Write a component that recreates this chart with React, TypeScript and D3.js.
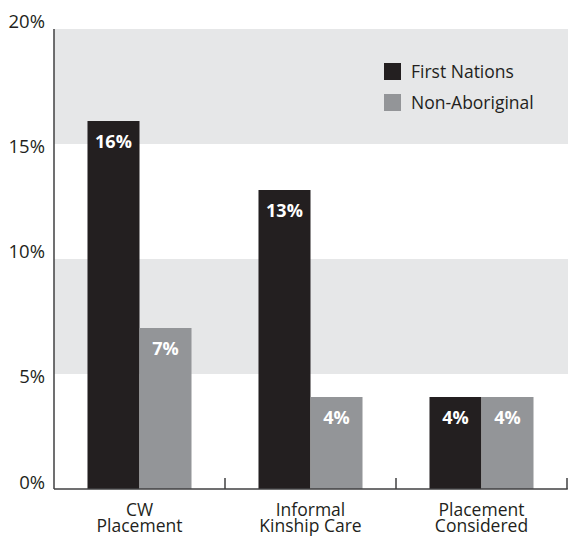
import * as d3 from "d3";

const categories = [["CW", "Placement"], ["Informal", "Kinship Care"], ["Placement", "Considered"]];
const seriesNames = ["First Nations", "Non-Aboriginal"];
const firstNations = [16, 13, 4];
const nonAboriginal = [7, 4, 4];
const yTicks = [0, 5, 10, 15, 20];
const seriesColors = ["#231f20", "#939598"];

export default function App() {
  const width = 568;
  const height = 536;
  const left = 54;
  const right = 567;
  const top = 29;
  const bottom = 489;
  const font = "'Open Sans', 'Noto Sans', sans-serif";
  const textColor = "#231f20";
  const axisColor = "#414042";

  const x0 = d3
    .scaleBand<number>()
    .domain(categories.map((_, i) => i))
    .range([left, right])
    .padding(0);

  const x1 = d3
    .scaleBand<string>()
    .domain(seriesNames)
    .range([0, x0.bandwidth()])
    .paddingInner(0)
    .paddingOuter(0.644);

  const y = d3.scaleLinear().domain([0, 20]).range([bottom, top]);

  const values = [firstNations, nonAboriginal];

  // nudges for the y tick labels, as in the original layout
  const labelNudge = [-6, 3, -7, 3, -7];

  return (
    <svg width={width} height={height} style={{ position: "absolute", left: 0, top: 0 }}>
      {/* alternating bands */}
      {d3.pairs(yTicks).map(([a, b], i) =>
        i % 2 === 1 ? (
          <rect key={i} x={left} y={y(b)} width={width - left} height={y(a) - y(b)} fill="#e6e7e8" />
        ) : null
      )}

      {/* bars */}
      {seriesNames.map((s, si) =>
        values[si].map((v, ci) => (
          <g key={`${s}-${ci}`}>
            <rect
              x={x0(ci)! + x1(s)!}
              y={y(v)}
              width={x1.bandwidth()}
              height={bottom - y(v)}
              fill={seriesColors[si]}
            />
            <text
              x={x0(ci)! + x1(s)! + x1.bandwidth() / 2}
              y={y(v) + 27}
              textAnchor="middle"
              fill="#ffffff"
              fontFamily={font}
              fontWeight="bold"
              fontSize={18}
            >
              {v}%
            </text>
          </g>
        ))
      )}

      {/* y axis */}
      <line x1={left} x2={left} y1={top} y2={bottom} stroke={axisColor} strokeWidth={1.5} />
      {yTicks.map((t, i) => (
        <text
          key={t}
          x={45}
          y={y(t) + labelNudge[i]}
          dy="0.35em"
          textAnchor="end"
          fill={textColor}
          fontFamily={font}
          fontSize={18.5}
        >
          {t}%
        </text>
      ))}

      {/* x axis */}
      <line x1={left} x2={right + 0.75} y1={bottom} y2={bottom} stroke={axisColor} strokeWidth={1.5} />
      {categories.map((_, i) => (
        <line
          key={i}
          x1={x0(i)! + x0.bandwidth()}
          x2={x0(i)! + x0.bandwidth()}
          y1={bottom}
          y2={bottom - 11}
          stroke={axisColor}
          strokeWidth={1.5}
        />
      ))}
      {categories.map((lines, i) => (
        <text
          key={i}
          x={x0(i)! + x0.bandwidth() / 2}
          y={516}
          textAnchor="middle"
          fill={textColor}
          fontFamily={font}
          fontSize={17.5}
        >
          {lines.map((l, j) => (
            <tspan key={j} x={x0(i)! + x0.bandwidth() / 2} dy={j === 0 ? 0 : 15.5}>
              {l}
            </tspan>
          ))}
        </text>
      ))}

      {/* legend */}
      {seriesNames.map((s, i) => (
        <g key={s} transform={`translate(384,${63 + i * 31})`}>
          <rect width={17} height={17} fill={seriesColors[i]} />
          <text x={27} y={8.5} dy="0.35em" fill={textColor} fontFamily={font} fontSize={17.5}>
            {s}
          </text>
        </g>
      ))}
    </svg>
  );
}
